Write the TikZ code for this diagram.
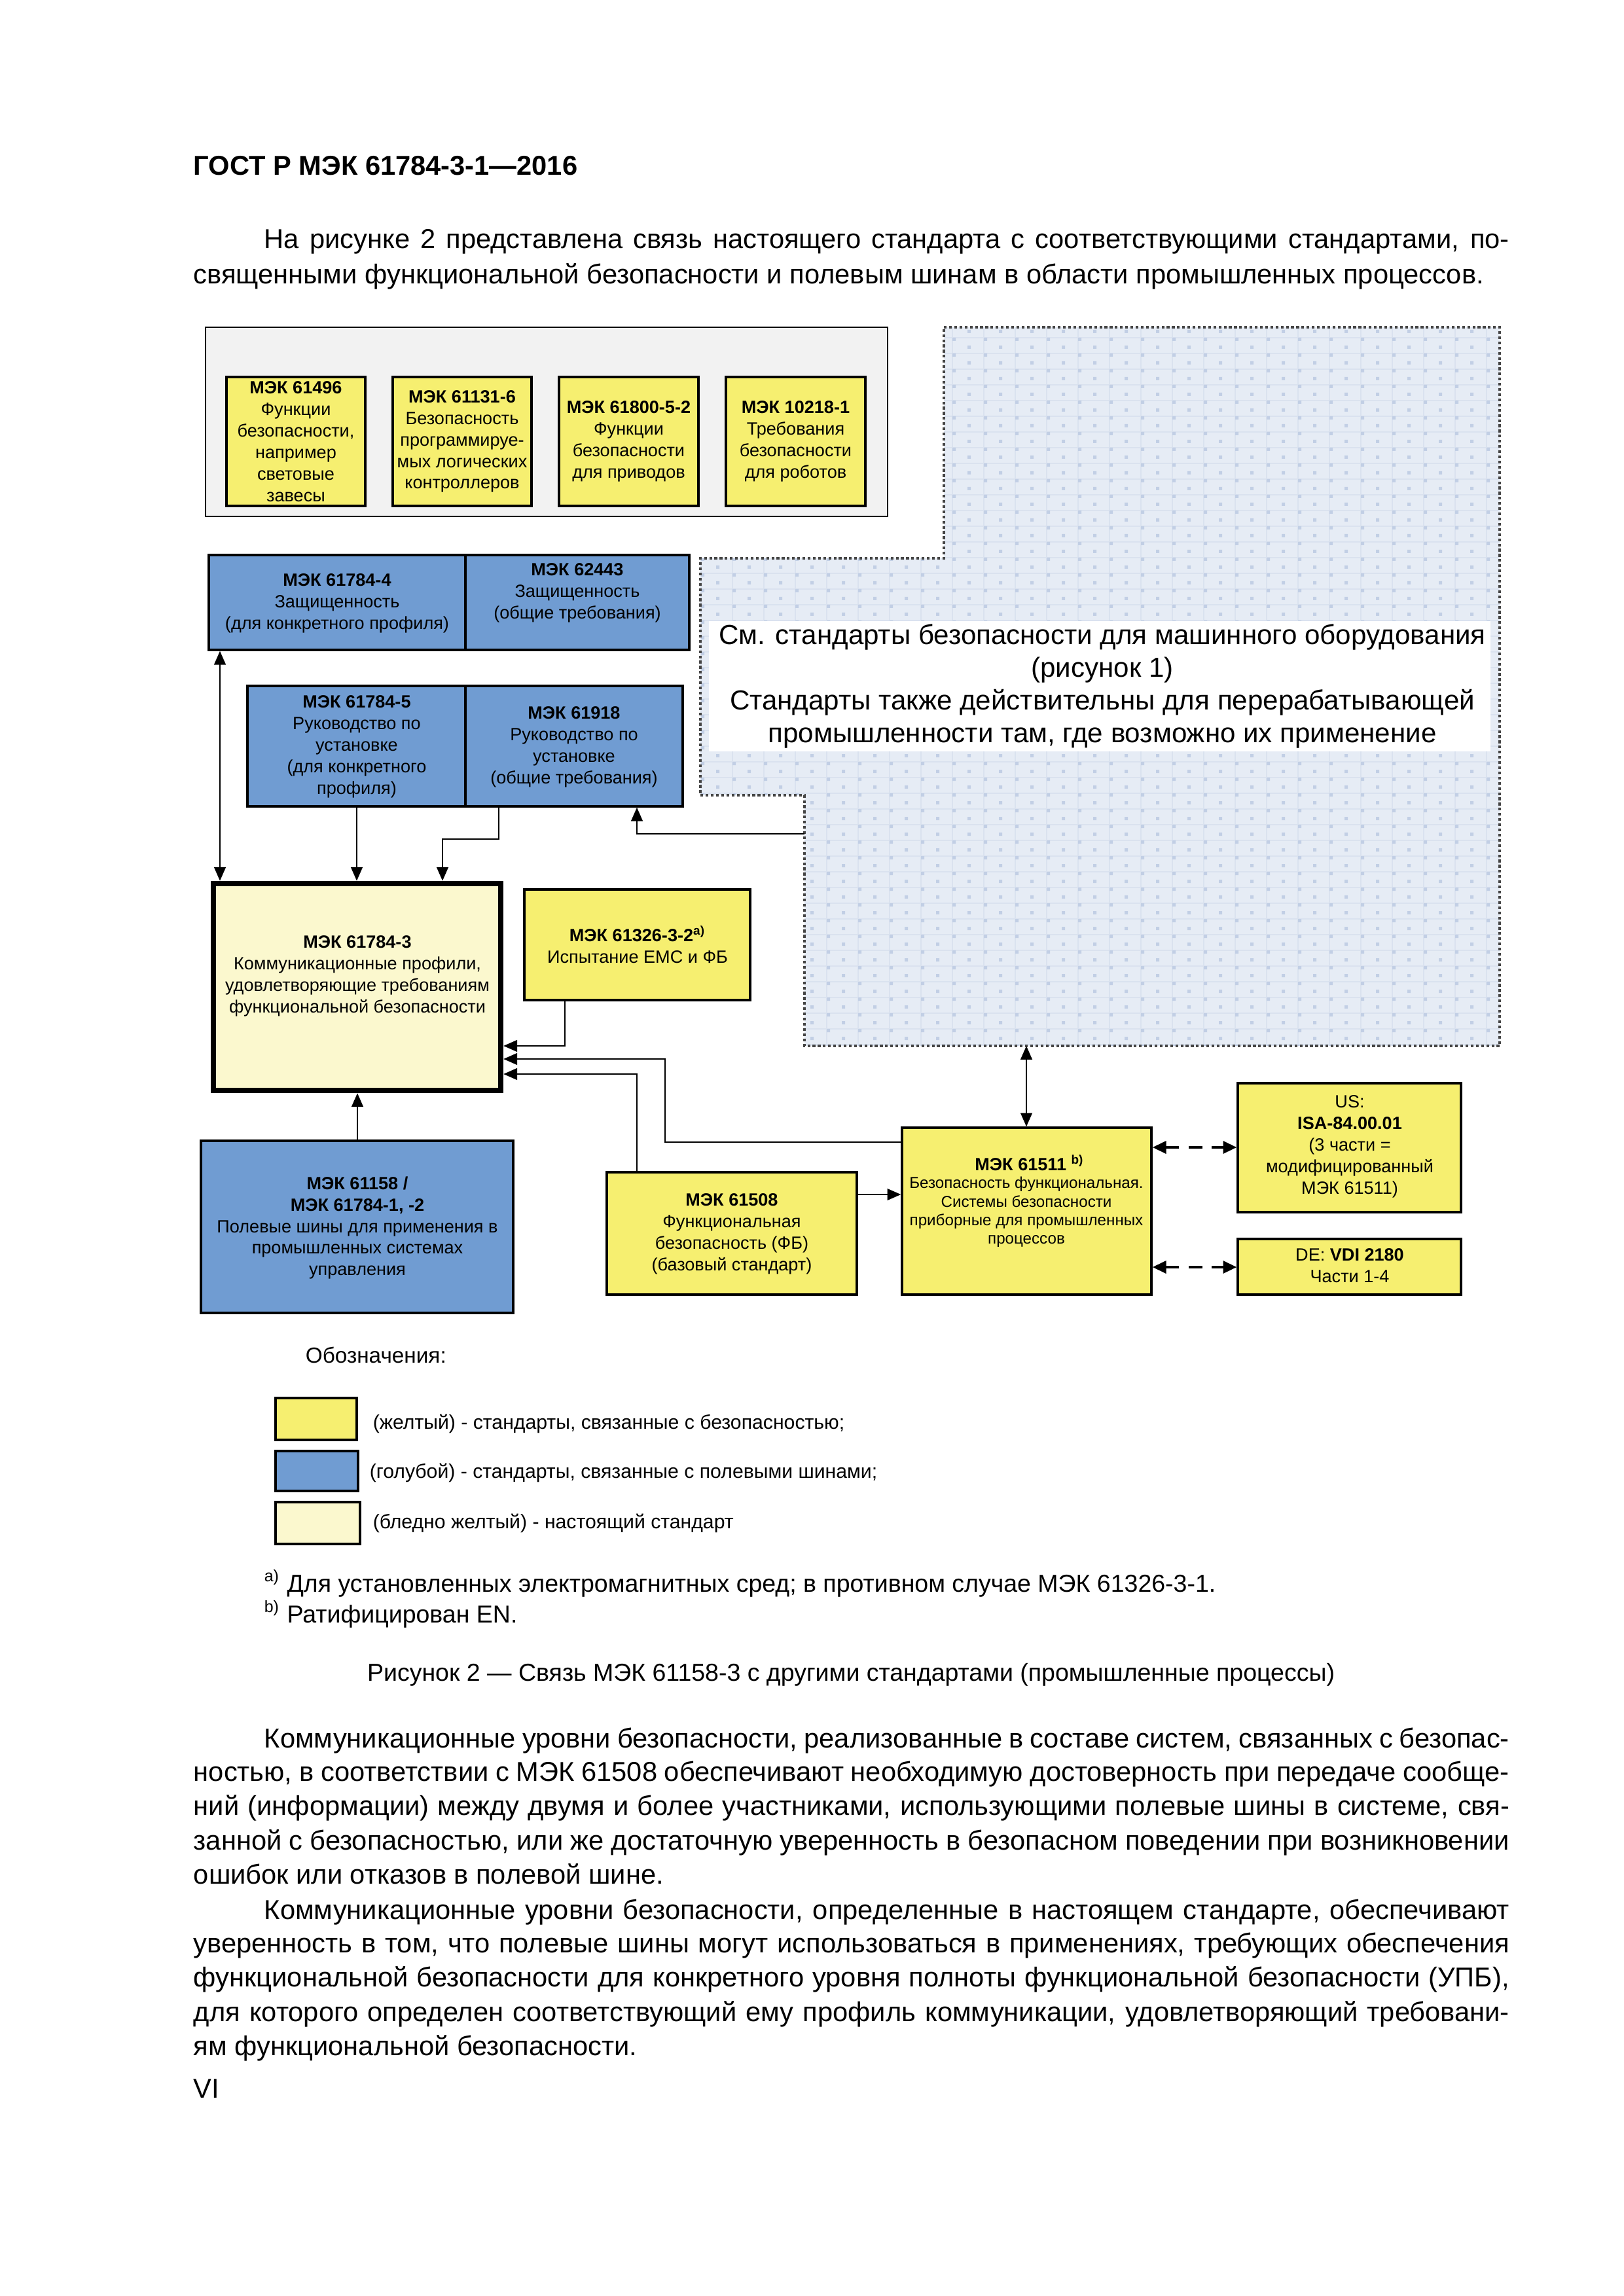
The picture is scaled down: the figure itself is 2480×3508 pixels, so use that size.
\documentclass[tikz,border=0pt]{standalone}
\usepackage{fontspec}
\setmainfont{Liberation Sans}
\usepackage{xcolor}
\usetikzlibrary{arrows.meta}
\usetikzlibrary{fit}
\definecolor{stdyellow}{HTML}{F6EF70}
\definecolor{stdblue}{HTML}{709CD2}
\definecolor{stdpale}{HTML}{FBF8CE}
\definecolor{groupgray}{HTML}{F2F2F2}
\definecolor{machfill}{HTML}{E6ECF5}
\definecolor{machgrid}{HTML}{DAE2EF}
\definecolor{machdot}{HTML}{C2CFE5}
\definecolor{machline}{HTML}{454545}
\newcommand{\bodyfont}{\fontsize{10}{12.5}\selectfont}
\newcommand{\boxfont}{\fontsize{6.5}{7.9}\selectfont}
\newcommand{\jline}[2]{\makebox[#1][s]{#2}}

\begin{document}
\begin{tikzpicture}[x=0.24pt,y=-0.24pt,
    ybox/.style={draw,line width=0.8pt,fill=stdyellow,inner sep=0pt},
    bbox/.style={draw,line width=0.8pt,fill=stdblue,inner sep=0pt},
    pbox/.style={draw,line width=2pt,fill=stdpale,inner sep=0pt},
    boxtxt/.style={align=center,font=\boxfont,inner sep=0pt},
    body/.style={anchor=base west,inner sep=0pt,font=\bodyfont},
    link/.style={line width=0.65pt},
    arr/.style={link,-{Triangle[length=5pt,width=4.2pt]}},
    arrtwo/.style={link,{Triangle[length=5pt,width=4.2pt]}-{Triangle[length=5pt,width=4.2pt]}},
    dasharr/.style={line width=1pt,dash pattern=on 5pt off 3.5pt,{Triangle[length=5pt,width=4.5pt]}-{Triangle[length=5pt,width=4.5pt]}}]
\useasboundingbox (0,0) rectangle (2480,3508);
\fill[white] (0,0) rectangle (2480,3508);

%% page text above the figure
\node[body,font=\fontsize{10}{12}\selectfont\bfseries] (header) at (295,268) {ГОСТ Р МЭК 61784-3-1—2016};
\node[body] (p1a) at (403,380) {\jline{456.5pt}{На рисунке 2 представлена связь настоящего стандарта с соответствующими стандартами, по-}};
\node[body] (p1b) at (295,434) {священными функциональной безопасности и полевым шинам в области промышленных процессов.};

%% group of machinery standards
\node[draw,line width=0.6pt,fill=groupgray,inner sep=0pt,fit={(314,500)(1356,789)}] (machgroup) {};
\node[ybox,fit={(346,576)(558,773)}] (iec61496) {};
\node[ybox,fit={(600,576)(812,773)}] (iec61131) {};
\node[ybox,fit={(854,576)(1067,773)}] (iec61800) {};
\node[ybox,fit={(1109,576)(1322,773)}] (iec10218) {};
\node[boxtxt] at (iec61496.center) {\textbf{МЭК 61496}\\Функции\\безопасности,\\например\\световые\\завесы};
\node[boxtxt] at (iec61131.center) {\textbf{МЭК 61131-6}\\Безопасность\\программируе-\\мых логических\\контроллеров};
\node[boxtxt] at (iec61800.center) {\textbf{МЭК 61800-5-2}\\Функции\\безопасности\\для приводов};
\node[boxtxt] at (iec10218.center) {\textbf{МЭК 10218-1}\\Требования\\безопасности\\для роботов};

%% machinery area
\begin{scope}
\clip (1442,500) -- (2291,500) -- (2291,1598) -- (1229,1598) -- (1229,1215)
      -- (1070,1215) -- (1070,853) -- (1442,853) -- cycle;
\fill[machfill] (1060,490) rectangle (2300,1610);
\foreach \gx in {1071,1119,...,2300}
    \draw[machgrid,line width=0.4pt] (\gx,490) -- (\gx,1610);
\foreach \gy in {492,516,...,1610}
    \draw[machgrid,line width=0.4pt] (1060,\gy) -- (2300,\gy);
\fill[machdot] \foreach \gx in {1071,1119,...,2300} {\foreach \gy in {492,516,...,1610}
    {(\gx,\gy) rectangle ++(5,5) (\gx+23,\gy+12) rectangle ++(5,5)}};
\end{scope}
\draw[machline,line width=0.9pt,dash pattern=on 1pt off 0.9pt]
    (1442,500) -- (2291,500) -- (2291,1598) -- (1229,1598) -- (1229,1215)
    -- (1070,1215) -- (1070,853) -- (1442,853) -- cycle;
\coordinate (machL) at (1229,1274);
\coordinate (machB) at (1568,1598);
\node[fill=white,inner sep=0pt,fit={(1083,949)(2277,1148)}] (machnote) {};
\node[align=center,inner sep=0pt,font=\fontsize{10.1}{12}\selectfont] (machtxt) at (1684,1048)
    {См. стандарты безопасности для машинного оборудования\\(рисунок 1)\\Стандарты также действительны для перерабатывающей\\промышленности там, где возможно их применение};

%% fieldbus standards
\node[bbox,fit={(319,848)(711,993)}] (iec61784x4) {};
\node[bbox,fit={(711,848)(1053,993)}] (iec62443) {};
\node[bbox,fit={(378,1048)(711,1232)}] (iec61784x5) {};
\node[bbox,fit={(711,1048)(1043,1232)}] (iec61918) {};
\node[boxtxt] at (515,922) {\textbf{МЭК 61784-4}\\Защищенность\\(для конкретного профиля)};
\node[boxtxt] at (882,906) {\textbf{МЭК 62443}\\Защищенность\\(общие требования)};
\node[boxtxt] at (545,1141) {\textbf{МЭК 61784-5}\\Руководство по\\установке\\(для конкретного\\профиля)};
\node[boxtxt] at (877,1141) {\textbf{МЭК 61918}\\Руководство по\\установке\\(общие требования)};

%% this standard and related ones
\node[pbox,fit={(326,1350)(765,1666)}] (iec61784x3) {};
\node[boxtxt] at (546,1491) {\textbf{МЭК 61784-3}\\Коммуникационные профили,\\удовлетворяющие требованиям\\функциональной безопасности};
\node[ybox,fit={(801,1359)(1146,1528)}] (iec61326) {};
\node[boxtxt] at (974,1443) {\textbf{МЭК 61326-3-2\textsuperscript{a)}}\\Испытание ЕМС и ФБ};
\node[bbox,fit={(307,1743)(784,2006)}] (iec61158) {};
\node[boxtxt] at (546,1876) {\textbf{МЭК 61158 /}\\\textbf{МЭК 61784-1, -2}\\Полевые шины для применения в\\промышленных системах\\управления};
\node[ybox,fit={(927,1791)(1309,1978)}] (iec61508) {};
\node[boxtxt] at (1118,1885) {\textbf{МЭК 61508}\\Функциональная\\безопасность (ФБ)\\(базовый стандарт)};
\node[ybox,fit={(1378,1723)(1759,1978)}] (iec61511) {};
\node[boxtxt] (t61511) at (1573,1777) {\textbf{МЭК 61511 \textsuperscript{b)}}};
\node[boxtxt,font=\fontsize{5.8}{6.8}\selectfont] (d61511) at (1568,1852)
    {Безопасность функциональная.\\Системы безопасности\\приборные для промышленных\\процессов};
\node[ybox,fit={(1891,1655)(2232,1852)}] (isa) {};
\node[boxtxt] at (2062,1752) {US:\\\textbf{ISA-84.00.01}\\(3 части =\\модифицированный\\МЭК 61511)};
\node[ybox,fit={(1891,1893)(2232,1978)}] (vdi) {};
\node[boxtxt] at (2062,1934) {DE: \textbf{VDI 2180}\\Части 1-4};

%% connectors
\draw[arrtwo] (336,0 |- iec61784x4.south) -- (336,0 |- iec61784x3.north);
\draw[arr] (545,0 |- iec61784x5.south) -- (545,0 |- iec61784x3.north);
\draw[arr] (762,0 |- iec61918.south) -- (762,1282) -| (676,0 |- iec61784x3.north);
\draw[arr] (machL) -| (973,0 |- iec61918.south);
\draw[arr] (546,0 |- iec61158.north) -- (546,0 |- iec61784x3.south);
\draw[arr] (863,0 |- iec61326.south) |- (iec61784x3.east |- 0,1598);
\draw[arr] (iec61511.west |- 0,1745) -| (1016,1618) -- (iec61784x3.east |- 0,1618);
\draw[arr] (973,0 |- iec61508.north) |- (iec61784x3.east |- 0,1641);
\draw[arr] (iec61508.east |- 0,1825) -- (iec61511.west |- 0,1825);
\draw[arrtwo] (machB) -- (machB |- iec61511.north);
\draw[dasharr] (iec61511.east |- 0,1753) -- (isa.west |- 0,1753);
\draw[dasharr] (iec61511.east |- 0,1936) -- (vdi.west |- 0,1936);

%% legend
\node[body,font=\fontsize{8}{9.6}\selectfont] (legend) at (466,2082) {Обозначения:};
\node[ybox,fit={(421,2136)(545,2200)}] (keyyellow) {};
\node[bbox,fit={(421,2217)(547,2278)}] (keyblue) {};
\node[draw,line width=0.8pt,fill=stdpale,inner sep=0pt,fit={(421,2295)(550,2359)}] (keypale) {};
\node[body,font=\fontsize{7.25}{8.7}\selectfont] at (569,2183) {(желтый) - стандарты, связанные с безопасностью;};
\node[body,font=\fontsize{7.25}{8.7}\selectfont] at (564,2258) {(голубой) - стандарты, связанные с полевыми шинами;};
\node[body,font=\fontsize{7.25}{8.7}\selectfont] at (569,2335) {(бледно желтый) - настоящий стандарт};

%% footnotes and caption
\node[body,font=\fontsize{9}{10.8}\selectfont] (notea) at (403,2432) {\textsuperscript{a)} Для установленных электромагнитных сред; в противном случае МЭК 61326-3-1.};
\node[body,font=\fontsize{9}{10.8}\selectfont] (noteb) at (403,2479) {\textsuperscript{b)} Ратифицирован EN.};
\node[anchor=base,inner sep=0pt,font=\fontsize{9}{10.8}\selectfont] (caption) at (1300,2568) {Рисунок 2 — Связь МЭК 61158-3 с другими стандартами (промышленные процессы)};

%% page text below the figure
\node[body] (p2a) at (403,2670) {\jline{456.5pt}{Коммуникационные уровни безопасности, реализованные в составе систем, связанных с безопас-}};
\node[body] (p2b) at (295,2721) {\jline{482.4pt}{ностью, в соответствии с МЭК 61508 обеспечивают необходимую достоверность при передаче сообще-}};
\node[body] (p2c) at (295,2773) {\jline{482.4pt}{ний (информации) между двумя и более участниками, использующими полевые шины в системе, свя-}};
\node[body] (p2d) at (295,2826) {\jline{482.4pt}{занной с безопасностью, или же достаточную уверенность в безопасном поведении при возникновении}};
\node[body] (p2e) at (295,2878) {ошибок или отказов в полевой шине.};
\node[body] (p3a) at (403,2932) {\jline{456.5pt}{Коммуникационные уровни безопасности, определенные в настоящем стандарте, обеспечивают}};
\node[body] (p3b) at (295,2983) {\jline{482.4pt}{уверенность в том, что полевые шины могут использоваться в применениях, требующих обеспечения}};
\node[body] (p3c) at (295,3035) {\jline{482.4pt}{функциональной безопасности для конкретного уровня полноты функциональной безопасности (УПБ),}};
\node[body] (p3d) at (295,3088) {\jline{482.4pt}{для которого определен соответствующий ему профиль коммуникации, удовлетворяющий требовани-}};
\node[body] (p3e) at (295,3140) {ям функциональной безопасности.};
\node[body] (pagenum) at (295,3205) {VI};
\end{tikzpicture}
\end{document}
